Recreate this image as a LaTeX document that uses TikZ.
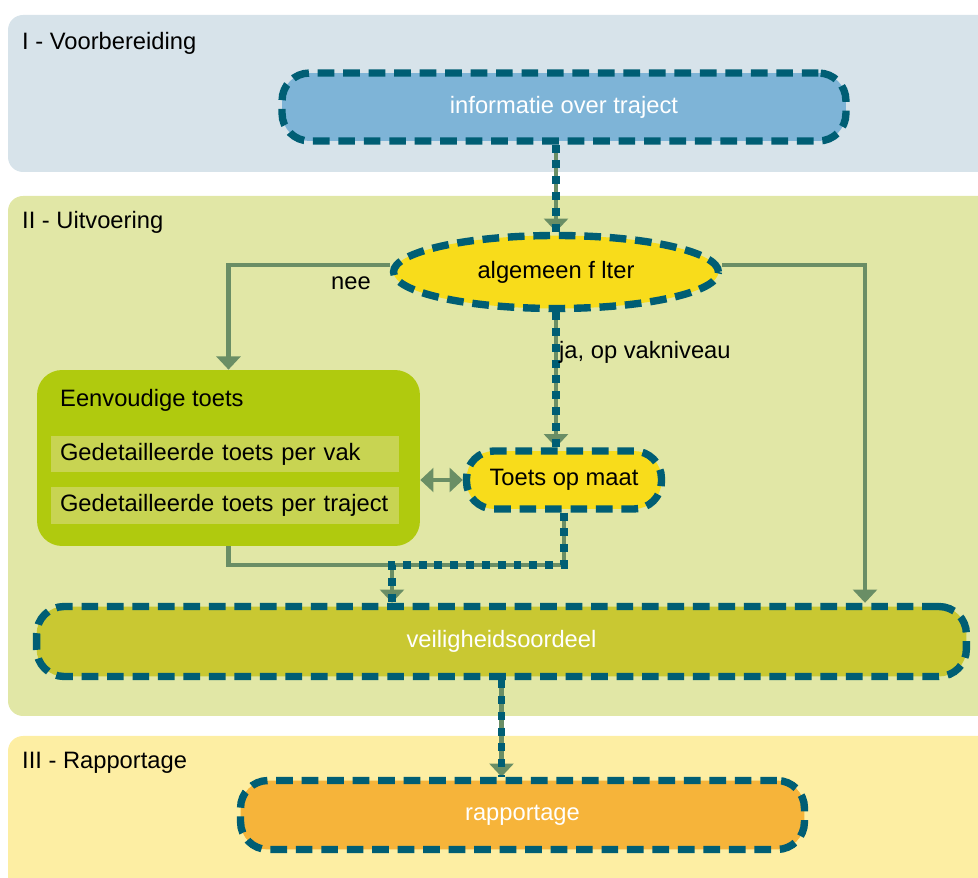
\documentclass[tikz,border=0pt]{standalone}
\usepackage{fontspec}
\setmainfont{Liberation Sans}
\usetikzlibrary{shapes.geometric,arrows.meta}

\definecolor{bandI}{HTML}{D7E3EA}
\definecolor{bandII}{HTML}{E1E7A6}
\definecolor{bandIII}{HTML}{FDEEA3}
\definecolor{infoblue}{HTML}{7EB4D7}
\definecolor{rimblue}{HTML}{005E74}
\definecolor{filteryellow}{HTML}{F8DC1B}
\definecolor{toetsgreen}{HTML}{B0CA0E}
\definecolor{bargreen}{HTML}{C8D452}
\definecolor{oordeelgreen}{HTML}{C9C832}
\definecolor{rapportorange}{HTML}{F6B43A}
\definecolor{flowgreen}{HTML}{6A8E65}

\newcommand{\txt}{\fontsize{13.5}{15}\selectfont}

\begin{document}
\begin{tikzpicture}[x=0.02cm,y=-0.02cm,
    ftip/.tip={Triangle[width=13.5pt,length=7.5pt]},
    band/.style={fill=#1,rounded corners=0.3cm},
    stage/.style={draw=rimblue,line width=4.2pt,dash pattern=on 9.5pt off 5pt,
        rounded corners=0.55cm,font=\txt,align=center},
    bar/.style={fill=bargreen,minimum width=6.96cm,minimum height=0.73cm,
        text width=6.6cm,font=\txt,inner sep=0pt},
    flow/.style={draw=flowgreen,line width=2.3pt,-ftip},
    flowline/.style={draw=flowgreen,line width=2.3pt},
    flowdash/.style={draw=rimblue,line width=4pt,dash pattern=on 4.5pt off 4.5pt},
    lbl/.style={font=\txt,anchor=west}]

    \useasboundingbox (0,0) rectangle (978,878);
    \clip (0,0) rectangle (978,878);

    %% achtergrond, drie fasen
    \fill[band=bandI] (8,15) rectangle (1000,172);
    \fill[band=bandII] (8,196) rectangle (1000,716);
    \fill[band=bandIII] (8,736) rectangle (1000,900);
    \node[lbl] (faseI) at (16,43) {I - Voorbereiding};
    \node[lbl] (faseII) at (16,222) {II - Uitvoering};
    \node[lbl] (faseIII) at (16,763) {III - Rapportage};

    %% blokken
    \node[stage,fill=infoblue,text=white,minimum width=11.28cm,minimum height=1.36cm]
        (info) at (564,107) {informatie over traject};
    \node[stage,ellipse,fill=filteryellow,minimum width=6.5cm,minimum height=1.46cm]
        (filter) at (556,272) {algemeen f lter};
    \node[fill=toetsgreen,rounded corners=0.5cm,minimum width=7.66cm,minimum height=3.52cm]
        (eenv) at (228.5,458) {};
    \node[lbl] (eenvtxt) at (54,400) {Eenvoudige toets};
    \node[bar] (pervak) at (225,454) {Gedetailleerde toets per vak};
    \node[bar] (pertraject) at (225,505.5) {Gedetailleerde toets per traject};
    \node[stage,fill=filteryellow,minimum width=3.9cm,minimum height=1.16cm]
        (maat) at (564,480) {Toets op maat};
    \node[stage,fill=oordeelgreen,text=white,minimum width=18.6cm,minimum height=1.4cm]
        (veilig) at (501.5,641.5) {veiligheidsoordeel};
    \node[stage,fill=rapportorange,text=white,minimum width=11.28cm,minimum height=1.38cm]
        (rapport) at (522.5,815) {rapportage};

    \coordinate (merge) at (392,565);
    \coordinate (rcol) at (865,0);

    %% verbindingen
    \draw[flow] (filter.north |- info.south) -- (filter.north);
    \draw[flowdash] (filter.north |- info.south) -- (filter.north);
    \draw[flow] (filter.west |- 0,265) -| (eenv.north);
    \node[lbl] (nee) at (325,283) {nee};
    \draw[flow] (filter.east |- 0,265) -| (veilig.north -| rcol);
    \draw[flow] (filter.south) -- (filter.south |- maat.north);
    \draw[flowdash] (filter.south) -- (filter.south |- maat.north);
    \node[lbl] (ja) at (553,352) {ja, op vakniveau};
    \draw[flowline,ftip-ftip] (eenv.east |- maat.west) -- (maat.west);
    \draw[flow] (eenv.south) |- (merge) -- (merge |- veilig.north);
    \draw[flowline] (maat.south) |- (merge);
    \draw[flowdash] (maat.south) |- (merge) -- (merge |- veilig.north);
    \draw[flow] (veilig.south) -- (veilig.south |- rapport.north);
    \draw[flowdash] (veilig.south) -- (veilig.south |- rapport.north);

\end{tikzpicture}
\end{document}
